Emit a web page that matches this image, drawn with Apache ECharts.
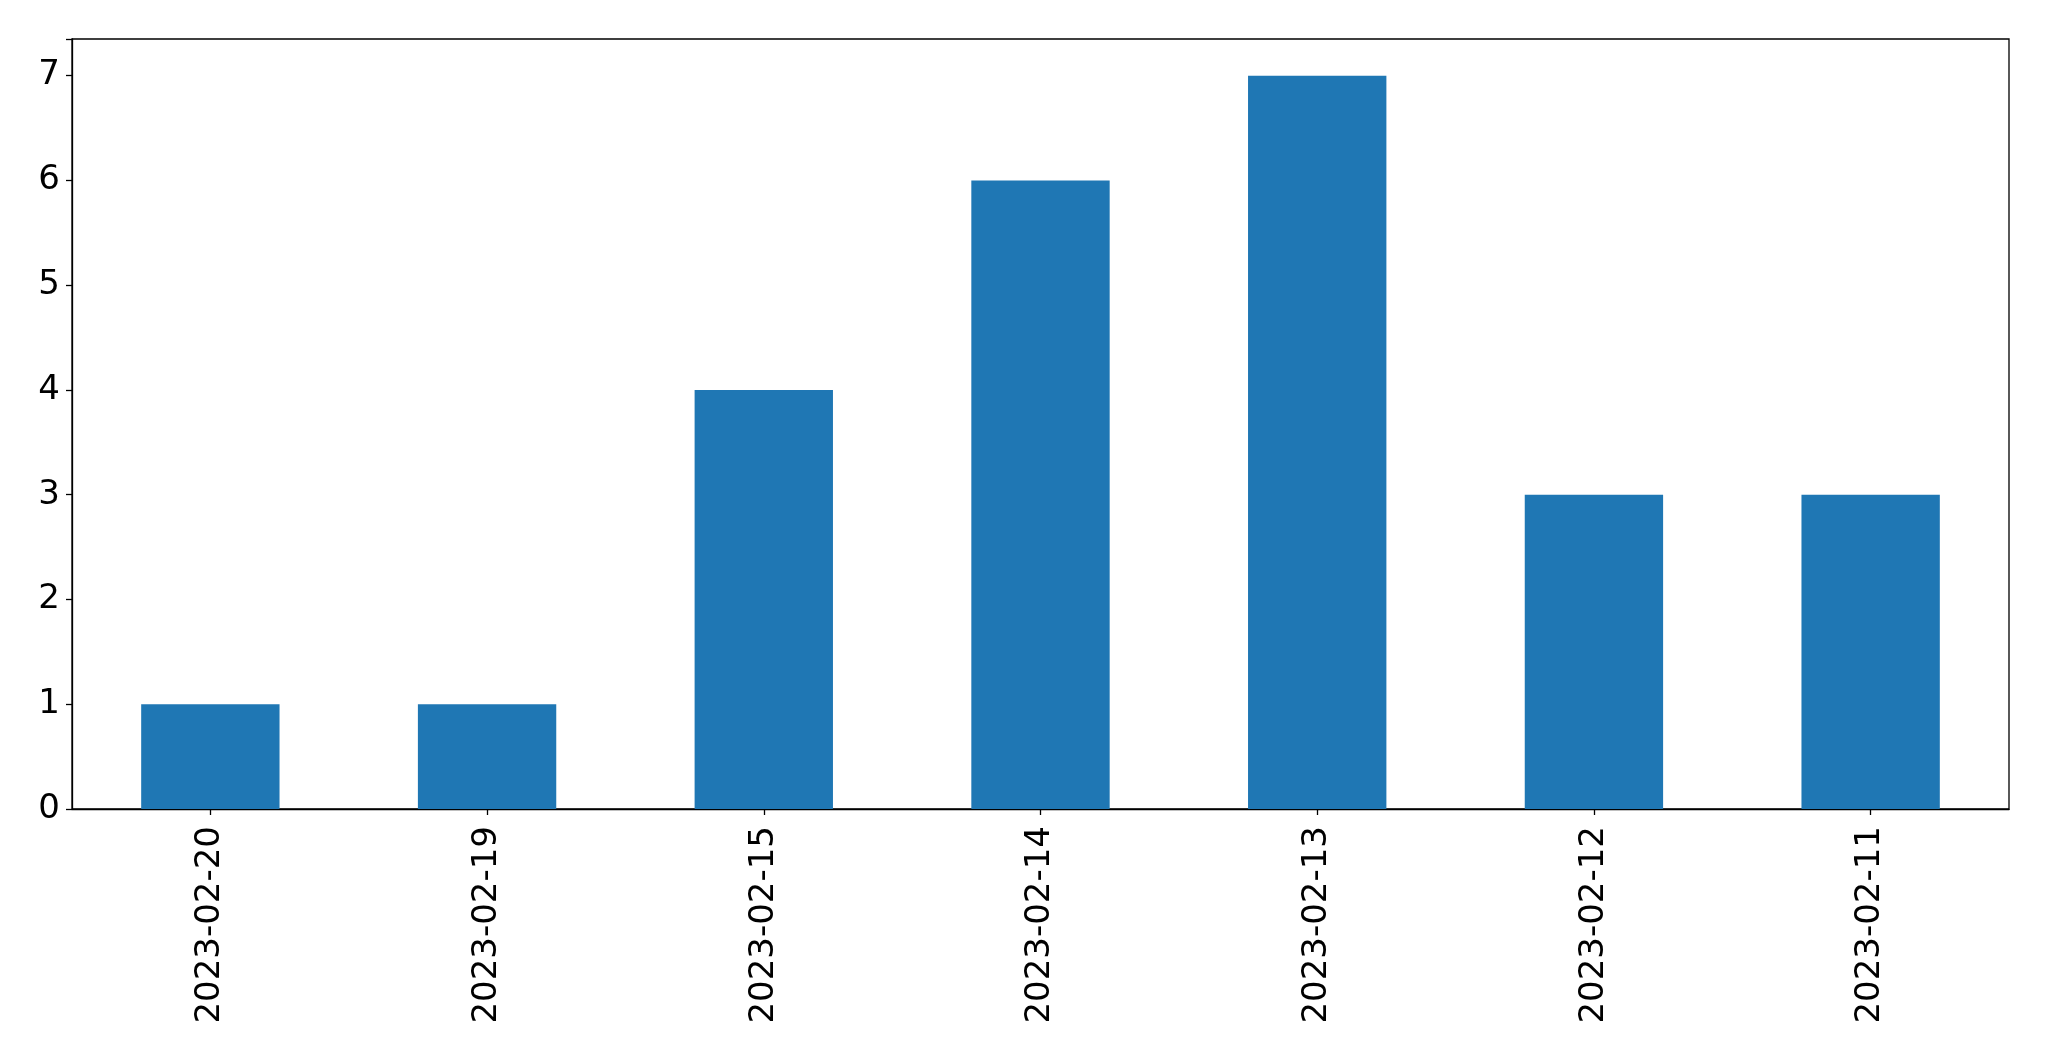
<!DOCTYPE html>
<html>
<head>
<meta charset="utf-8">
<script src="https://cdn.jsdelivr.net/npm/echarts@6/dist/echarts.min.js"></script>
<style>
html,body{margin:0;padding:0;background:#fff;}
#chart{width:2049px;height:1061px;}
</style>
</head>
<body>
<div id="chart"></div>
<script>
const categories = ['2023-02-20','2023-02-19','2023-02-15','2023-02-14','2023-02-13','2023-02-12','2023-02-11'];
const values = [1, 1, 4, 6, 7, 3, 3];
const yTicks = [0, 1, 2, 3, 4, 5, 6, 7];

const chart = echarts.init(document.getElementById('chart'), null, {renderer: 'canvas'});
const font = 'DejaVu Sans';
chart.setOption({
  animation: false,
  backgroundColor: '#ffffff',
  grid: {left: 72, right: 40, top: 39, bottom: 252, show: true, borderColor: '#000', borderWidth: 1.3, containLabel: false},
  xAxis: {
    type: 'category',
    data: categories,
    boundaryGap: true,
    axisLine: {show: true, lineStyle: {color: '#000', width: 1.3}},
    axisTick: {show: true, alignWithLabel: true, length: 6, lineStyle: {color: '#000', width: 1.3}},
    axisLabel: {rotate: 90, color: '#000', fontFamily: font, fontSize: 34, margin: 17, interval: 0},
    splitLine: {show: false}
  },
  yAxis: {
    type: 'value',
    min: 0,
    max: 7.35,
    interval: 1,
    axisLine: {show: true, lineStyle: {color: '#000', width: 1.3}},
    axisTick: {show: true, length: 6, lineStyle: {color: '#000', width: 1.3}},
    axisLabel: {color: '#000', fontFamily: font, fontSize: 34, margin: 12, padding: [5, 0, 0, 0],
      formatter: v => yTicks.includes(v) ? String(v) : ''},
    splitLine: {show: false}
  },
  series: [{
    type: 'bar',
    data: values,
    barWidth: '50%',
    itemStyle: {color: '#1f77b4'}
  }]
});
</script>
</body>
</html>
